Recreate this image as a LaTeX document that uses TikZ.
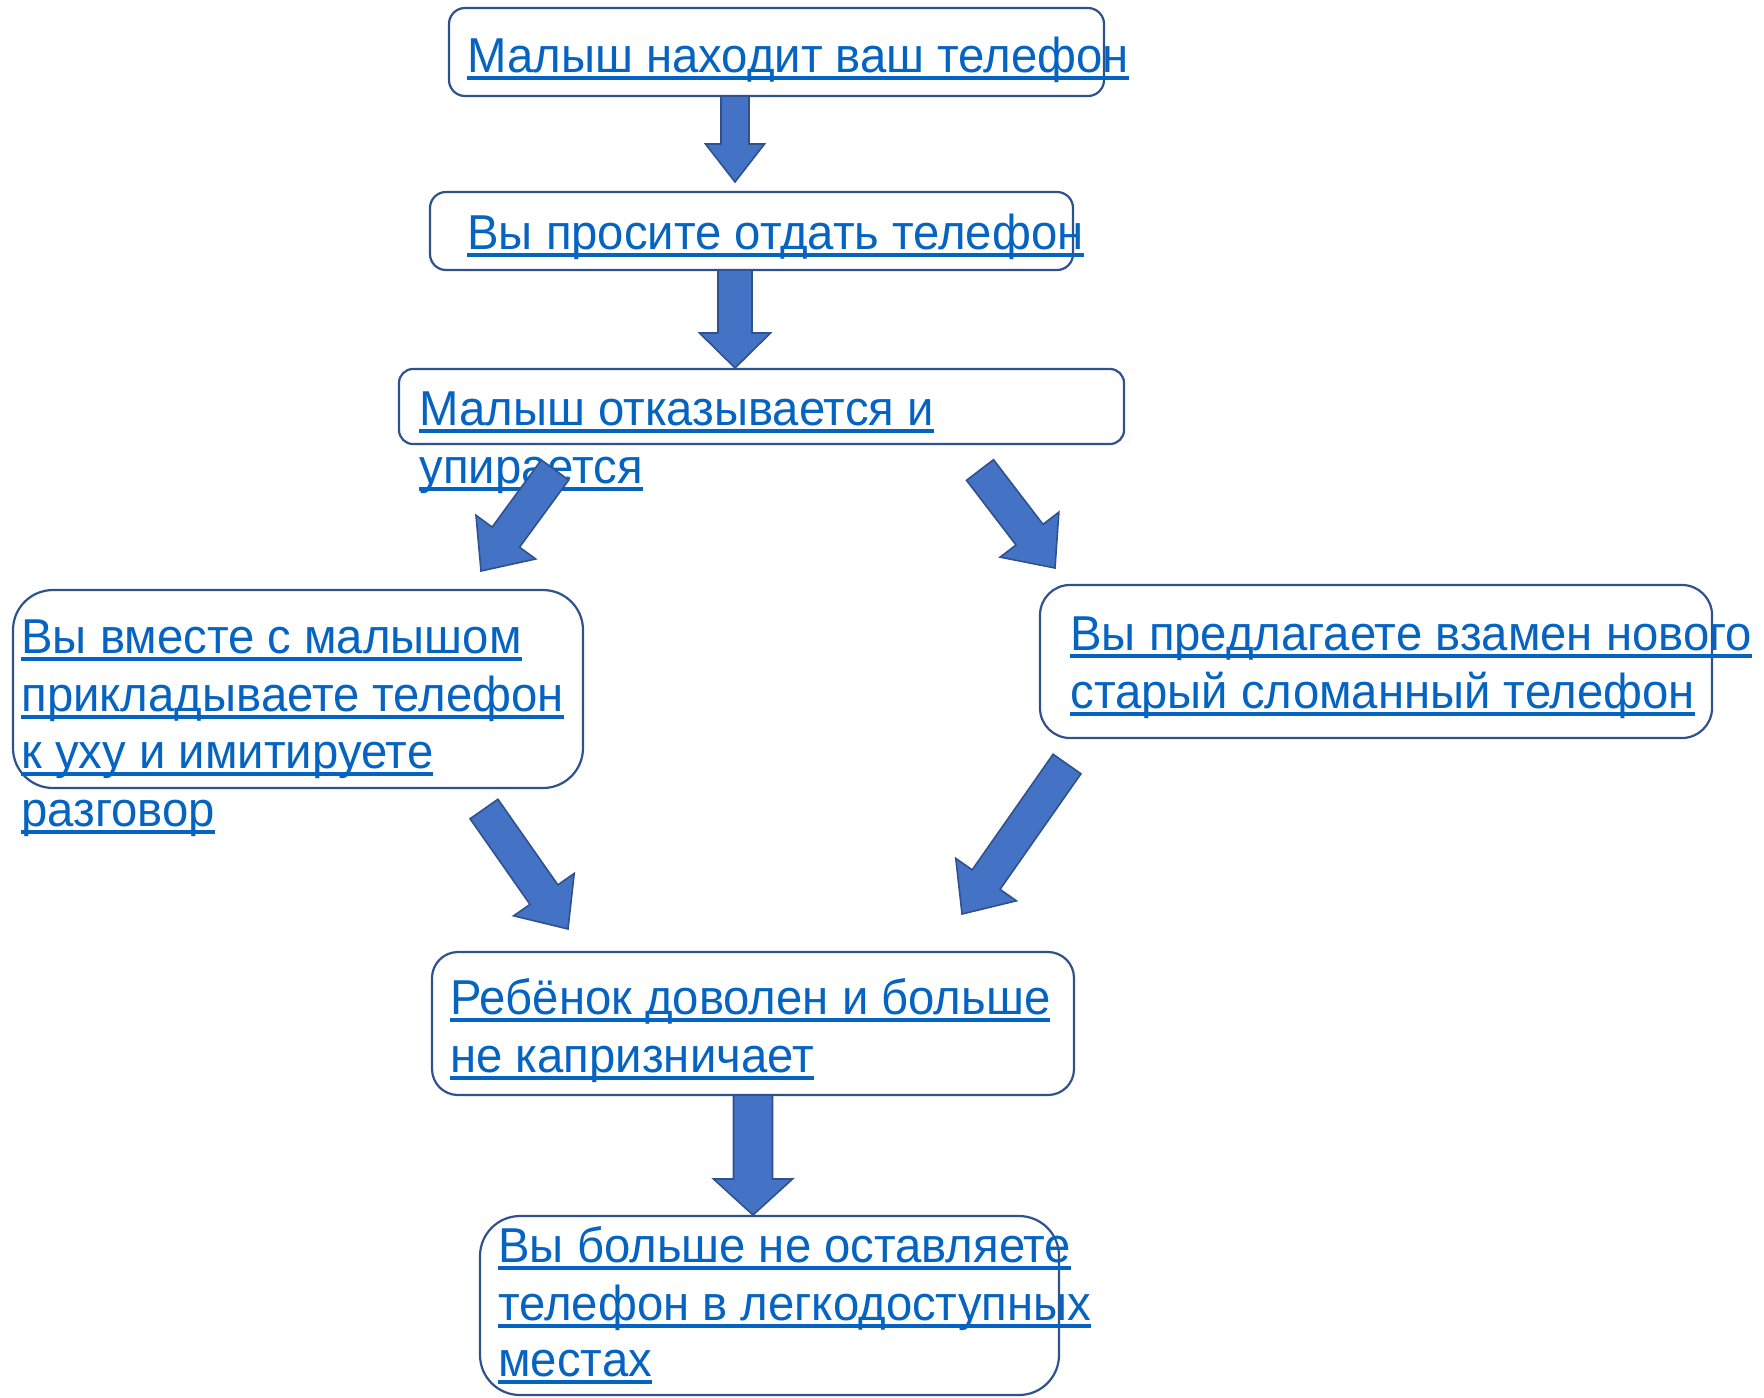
\documentclass[tikz,border=0pt]{standalone}
\usepackage{fontspec}
\setmainfont[FakeStretch=0.965]{Liberation Sans}
\usetikzlibrary{calc}
\definecolor{linkblue}{HTML}{0563C1}
\definecolor{boxblue}{HTML}{2F528F}
\definecolor{arrowfill}{HTML}{4472C4}
\newsavebox\ulbox
\newcommand\ulx[1]{\leavevmode\sbox\ulbox{#1}\rlap{\raisebox{-3.8pt}{\rule{\wd\ulbox}{2pt}}}\usebox\ulbox}
\tikzset{
  boxshape/.style={draw=boxblue, line width=1.1pt, inner sep=0pt},
  txt/.style={anchor=base west, inner sep=0pt, text=linkblue, font=\fontsize{24.5pt}{28.5pt}\selectfont},
  barrow/.style={fill=arrowfill, draw=boxblue, line width=0.8pt, line join=miter},
}
% name, x1, y1, x2, y2, corner radius (pt)
\newcommand\boxnode[6]{%
  \pgfmathsetmacro\bcx{(#2+#4)/2}\pgfmathsetmacro\bcy{(#3+#5)/2}%
  \pgfmathsetmacro\bw{(#4-#2)*0.5}\pgfmathsetmacro\bh{(#5-#3)*0.5}%
  \node[boxshape, rounded corners=#6, minimum width=\bw pt, minimum height=\bh pt] (#1) at (\bcx,\bcy) {};}
% tail, tip, half shaft, half head, head length
\newcommand\blockarrow[5]{%
  \coordinate (ah) at ($(#2)!#5!(#1)$);
  \draw[barrow] ($(#1)!#3!90:(#2)$) -- ($(ah)!#3!90:(#2)$) -- ($(ah)!#4!90:(#2)$) -- (#2)
    -- ($(ah)!#4!-90:(#2)$) -- ($(ah)!#3!-90:(#2)$) -- ($(#1)!#3!-90:(#2)$) -- cycle;}
\begin{document}
\begin{tikzpicture}[x=0.5pt, y=-0.5pt]
\useasboundingbox (0,0) rectangle (1764,1397);
% boxes
\boxnode{b1}{449}{8}{1104}{96}{8pt}
\boxnode{b2}{430}{192}{1073}{270}{8pt}
\boxnode{b3}{399}{369}{1124}{444}{7pt}
\boxnode{b4}{13}{590}{583}{788}{20pt}
\boxnode{b5}{1040}{585}{1712}{738}{15pt}
\boxnode{b6}{432}{952}{1074}{1095}{13pt}
\boxnode{b7}{480}{1216}{1059}{1395}{20pt}
% texts
\node[txt] (t1) at (467,72) {\ulx{Малыш находит ваш телефон}};
\node[txt] (t2) at (467,249) {\ulx{Вы просите отдать телефон}};
\node[txt] (t3a) at (419,425) {\ulx{Малыш отказывается и}};
\node[txt] (t3b) at (419,483) {\ulx{упирается}};
\node[txt] (t4a) at (21,653) {\ulx{Вы вместе с малышом}};
\node[txt] (t4b) at (21,711) {\ulx{прикладываете телефон}};
\node[txt] (t4c) at (21,768) {\ulx{к уху и имитируете}};
\node[txt] (t4d) at (21,826) {\ulx{разговор}};
\node[txt] (t5a) at (1070,650) {\ulx{Вы предлагаете взамен нового}};
\node[txt] (t5b) at (1070,708) {\ulx{старый сломанный телефон}};
\node[txt] (t6a) at (450,1014) {\ulx{Ребёнок доволен и больше}};
\node[txt] (t6b) at (450,1072) {\ulx{не капризничает}};
\node[txt] (t7a) at (498,1262) {\ulx{Вы больше не оставляете}};
\node[txt] (t7b) at (498,1320) {\ulx{телефон в легкодоступных}};
\node[txt] (t7c) at (498,1376) {\ulx{местах}};
% arrow end points
\coordinate (a1s) at (735,96);   \coordinate (a1e) at (735,182);
\coordinate (a2s) at (735,270);  \coordinate (a2e) at (735,368);
\coordinate (a3s) at (555,470);  \coordinate (a3e) at (481,571);
\coordinate (a4s) at (980,470);  \coordinate (a4e) at (1055,568);
\coordinate (a5s) at (484,809);  \coordinate (a5e) at (568,929);
\coordinate (a6s) at (1067,764); \coordinate (a6e) at (962,914);
\coordinate (a7s) at (753,1095); \coordinate (a7e) at (753,1215);
\blockarrow{a1s}{a1e}{7pt}{14.75pt}{19pt}
\blockarrow{a2s}{a2e}{8.5pt}{17.75pt}{17.5pt}
\blockarrow{a3s}{a3e}{8.5pt}{18.5pt}{21pt}
\blockarrow{a4s}{a4e}{8.5pt}{18.5pt}{21pt}
\blockarrow{a5s}{a5e}{8.5pt}{18.5pt}{21pt}
\blockarrow{a6s}{a6e}{8.5pt}{18.5pt}{21pt}
\blockarrow{a7s}{a7e}{9.75pt}{19.75pt}{18pt}
\end{tikzpicture}
\end{document}
